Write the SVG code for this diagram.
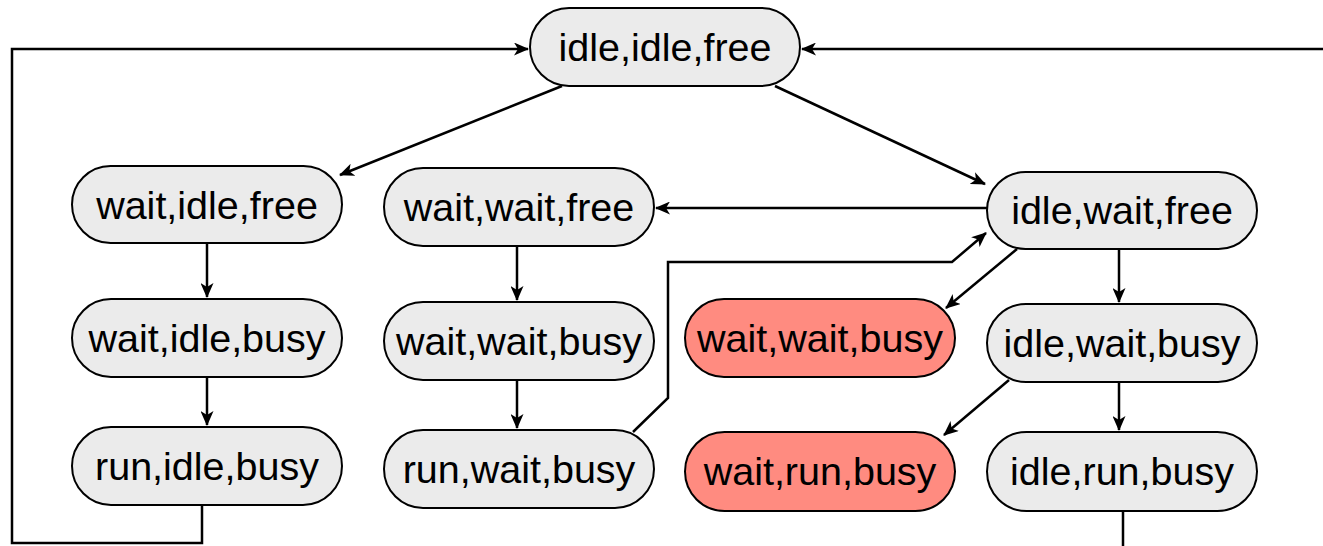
<svg xmlns="http://www.w3.org/2000/svg" width="1323" height="546" viewBox="0 0 1323 546">
<style>
.n rect{fill:#ebebeb;stroke:#000;stroke-width:2}
.n.r rect{fill:#ff8b80}
.n text{font-family:"Liberation Sans",Arial,sans-serif;font-size:39.5px;text-anchor:middle;fill:#000}
.c path{fill:none;stroke:#000;stroke-width:2.5}
</style>
<defs>
<marker id="a" viewBox="0 0 15 13" refX="14" refY="6.5" markerWidth="15" markerHeight="13" markerUnits="userSpaceOnUse" orient="auto">
<path d="M0,0 L15,6.5 L0,13 L4,6.5 z" fill="#000"/>
</marker>
</defs>
<g class="c">
<path d="M202,505 L202,543 L12,543 L12,49 L528,49" marker-end="url(#a)"/>
<path d="M1123,511 L1123,560 L1340,560 L1340,49 L802,49" marker-end="url(#a)"/>
<path d="M562,86 L340,175" marker-end="url(#a)"/>
<path d="M775,86 L985,184" marker-end="url(#a)"/>
<path d="M987,208 L656,208" marker-end="url(#a)"/>
<path d="M633,432 L668,398 L668,262 L952,262 L986,233" marker-end="url(#a)"/>
<path d="M1017,249 L946,308" marker-end="url(#a)"/>
<path d="M1009,380 L944,435" marker-end="url(#a)"/>
<path d="M207,243 L207,297" marker-end="url(#a)"/>
<path d="M207,377 L207,425" marker-end="url(#a)"/>
<path d="M517,246 L517,300" marker-end="url(#a)"/>
<path d="M517,380 L517,428" marker-end="url(#a)"/>
<path d="M1119,249 L1119,302" marker-end="url(#a)"/>
<path d="M1119,382 L1119,430" marker-end="url(#a)"/>
</g>
<g id="n_iif" class="n"><rect x="530" y="8" width="270" height="78" rx="39"/><text x="665" y="61">idle,idle,free</text></g>
<g id="n_wif" class="n"><rect x="72" y="166" width="270" height="77" rx="38.5"/><text x="207" y="219">wait,idle,free</text></g>
<g id="n_wib" class="n"><rect x="72" y="299" width="270" height="78" rx="39"/><text x="207" y="352">wait,idle,busy</text></g>
<g id="n_rib" class="n"><rect x="72" y="427" width="270" height="78" rx="39"/><text x="207" y="480">run,idle,busy</text></g>
<g id="n_wwf" class="n"><rect x="384" y="168" width="270" height="78" rx="39"/><text x="519" y="221">wait,wait,free</text></g>
<g id="n_wwb" class="n"><rect x="384" y="302" width="270" height="78" rx="39"/><text x="519" y="355">wait,wait,busy</text></g>
<g id="n_rwb" class="n"><rect x="384" y="430" width="270" height="78" rx="39"/><text x="519" y="483">run,wait,busy</text></g>
<g id="n_wwb2" class="n r"><rect x="685" y="299" width="270" height="78" rx="39"/><text x="820" y="352">wait,wait,busy</text></g>
<g id="n_wrb" class="n r"><rect x="685" y="432" width="270" height="79" rx="39.5"/><text x="820" y="485">wait,run,busy</text></g>
<g id="n_iwf" class="n"><rect x="987" y="172" width="270" height="77" rx="38.5"/><text x="1122" y="224">idle,wait,free</text></g>
<g id="n_iwb" class="n"><rect x="987" y="304" width="270" height="78" rx="39"/><text x="1122" y="357">idle,wait,busy</text></g>
<g id="n_irb" class="n"><rect x="987" y="432" width="270" height="79" rx="39.5"/><text x="1122" y="485">idle,run,busy</text></g>
</svg>
